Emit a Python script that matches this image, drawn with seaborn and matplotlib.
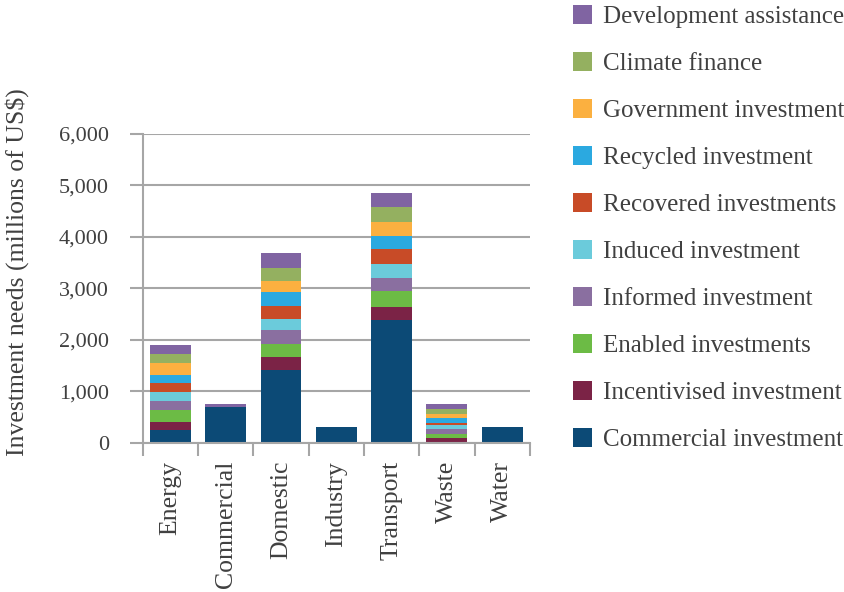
import numpy as np
import pandas as pd
import matplotlib
matplotlib.use("Agg")
import matplotlib.pyplot as plt
import seaborn as sns
from matplotlib.patches import Patch
from matplotlib.ticker import FuncFormatter, FixedLocator

# sectors on the x axis
sectors = ["Energy", "Commercial", "Domestic", "Industry", "Transport", "Waste", "Water"]

# investment layers, bottom of the stack first
series = ["Commercial investment", "Incentivised investment", "Enabled investments",
          "Informed investment", "Induced investment", "Recovered investments",
          "Recycled investment", "Government investment", "Climate finance",
          "Development assistance"]

commercial   = [250, 690, 1420, 310, 2390, 10, 300]
incentivised = [155, 0, 250, 0, 255, 78, 0]
enabled      = [235, 0, 255, 0, 310, 78, 0]
informed     = [175, 0, 270, 0, 250, 97, 0]
induced      = [175, 0, 215, 0, 270, 78, 0]
recovered    = [175, 0, 255, 0, 290, 39, 0]
recycled     = [155, 0, 270, 0, 250, 97, 0]
government   = [235, 0, 215, 0, 270, 78, 0]
climate      = [175, 0, 250, 0, 290, 97, 0]
development  = [175, 60, 280, 0, 285, 97, 0]

colors = ["#0C4A76", "#7B2346", "#6CBB45", "#8A6FA0", "#6BCBDB",
          "#C84B27", "#2BA9E0", "#FBB040", "#94B060", "#8064A2"]

values = [commercial, incentivised, enabled, informed, induced,
          recovered, recycled, government, climate, development]

df = pd.DataFrame(dict(zip(series, values)), index=sectors)
cum = df.cumsum(axis=1)

sns.set_theme(style="white")
plt.rcParams["font.family"] = ["Liberation Serif", "DejaVu Serif"]
text_col = "#404040"
grid_col = "#A6A6A6"

fig = plt.figure(figsize=(8.45, 5.92), dpi=100)
ax = fig.add_axes([0.169, 0.252, 0.458, 0.522])

# draw cumulative totals from the top layer down so lower layers sit on top
for name, col in reversed(list(zip(series, colors))):
    d = pd.DataFrame({"sector": sectors, "value": cum[name].values})
    sns.barplot(data=d, x="sector", y="value", color=col, width=0.74,
                saturation=1, ax=ax, order=sectors, linewidth=0, edgecolor="none")

ax.set_ylim(0, 6000)
ax.set_xlim(-0.5, len(sectors) - 0.5)
ax.set_yticks(np.arange(0, 6001, 1000))
ax.yaxis.set_major_formatter(FuncFormatter(lambda v, p: f"{int(v):,}"))
ax.yaxis.grid(True, color=grid_col, linewidth=1.5)
ax.set_axisbelow(True)

ax.xaxis.set_minor_locator(FixedLocator(np.arange(-0.5, len(sectors), 1.0)))
ax.tick_params(axis="x", which="major", length=0, pad=13, labelsize=18.5,
               labelcolor=text_col, labelrotation=90)
ax.tick_params(axis="x", which="minor", length=9, width=1.5, color=grid_col,
               direction="out", bottom=True)
ax.tick_params(axis="y", which="major", length=9.5, width=1.5, color=grid_col,
               direction="out", left=True, pad=15, labelsize=16, labelcolor=text_col)

for lab in ax.get_xticklabels():
    lab.set_verticalalignment("top")

for s in ["top", "right"]:
    ax.spines[s].set_visible(False)
for s in ["left", "bottom"]:
    ax.spines[s].set_color(grid_col)
    ax.spines[s].set_linewidth(1.5)

ax.set_xlabel("")
ax.set_ylabel("Investment needs (millions of US$)", fontsize=18.5, color=text_col)
ax.yaxis.set_label_coords(-0.295, 0.553)

handles = [Patch(facecolor=c, edgecolor="none") for c in colors]
leg = fig.legend(handles[::-1], series[::-1], loc="upper left",
                 bbox_to_anchor=(0.677, 0.993), frameon=False, fontsize=18,
                 handlelength=0.75, handleheight=0.75, handletextpad=0.45,
                 labelspacing=0.965, borderaxespad=0, borderpad=0.05)
for t in leg.get_texts():
    t.set_color(text_col)

fig.savefig("out.png", dpi=100)
